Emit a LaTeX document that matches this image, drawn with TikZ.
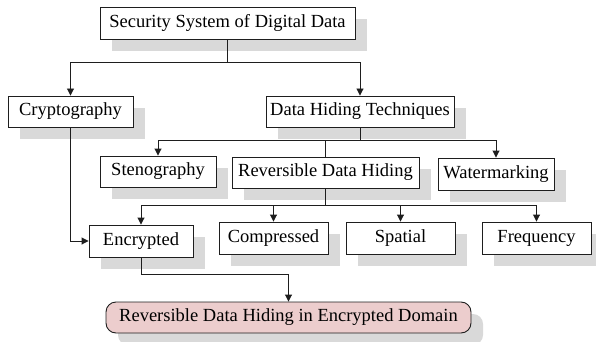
\documentclass[tikz,border=0pt]{standalone}
\usepackage{fontspec}
\setmainfont{Liberation Serif}
\usetikzlibrary{arrows.meta,shadows}
\definecolor{shadowgray}{RGB}{217,217,217}
\definecolor{pinkfill}{RGB}{236,205,205}
\definecolor{linegray}{RGB}{30,30,30}
\tikzset{
  box/.style={draw=linegray, line width=0.9pt, fill=white, inner sep=0pt,
    font=\fontsize{18.5}{21}\selectfont,
    drop shadow={shadow xshift=12pt, shadow yshift=-12pt, fill=shadowgray, opacity=1}},
  finalbox/.style={box, fill=pinkfill, rounded corners=10pt},
  conn/.style={draw=linegray, line width=0.9pt},
  arr/.style={conn, -{Triangle[length=7pt,width=7pt]}}
}
\begin{document}
\begin{tikzpicture}[x=1pt,y=-1pt]
\useasboundingbox (0,0) rectangle (596,342);
\node[box, minimum width=255pt, minimum height=32pt] (top) at (227.5,23) {Security System of Digital Data};
\node[box, minimum width=125pt, minimum height=31pt] (crypt) at (70.5,111.5) {Cryptography};
\node[box, minimum width=188pt, minimum height=31pt] (dht) at (360,111.5) {Data Hiding Techniques};
\node[box, minimum width=116pt, minimum height=31pt] (steno) at (158,171.5) {Stenography};
\node[box, minimum width=187pt, minimum height=31pt] (rdh) at (325.5,172.5) {Reversible Data Hiding};
\node[box, minimum width=116pt, minimum height=32pt] (water) at (496,174) {Watermarking};
\node[box, minimum width=104pt, minimum height=32pt] (enc) at (141,241) {Encrypted};
\node[box, minimum width=109pt, minimum height=32pt] (comp) at (273.5,238) {Compressed};
\node[box, minimum width=109pt, minimum height=32pt] (spat) at (400.5,238) {Spatial};
\node[box, minimum width=109pt, minimum height=32pt] (freq) at (536.5,238) {Frequency};
\node[finalbox, minimum width=365pt, minimum height=31pt] (final) at (288.5,317.5) {Reversible Data Hiding in Encrypted Domain};

\draw[arr] (top.south) -- ++(0,23) -| (crypt.north);
\draw[arr] (top.south) -- ++(0,23) -| (dht.north);

\draw[arr] (dht.south) -- ++(0,13) -| (steno.north);
\draw[arr] (dht.south) -- ++(0,13) -| (water.north);
\draw[conn] (dht.south) -- ++(0,13) -| (rdh.north);

\draw[arr] (rdh.south) -- ++(0,17) -| (enc.north);
\draw[arr] (rdh.south) -- ++(0,17) -| (comp.north);
\draw[arr] (rdh.south) -- ++(0,17) -| (spat.north);
\draw[arr] (rdh.south) -- ++(0,17) -| (freq.north);

\draw[arr] (crypt.south) |- (enc.west);
\draw[arr] (enc.south) -- ++(0,17) -| (final.north);
\end{tikzpicture}
\end{document}
